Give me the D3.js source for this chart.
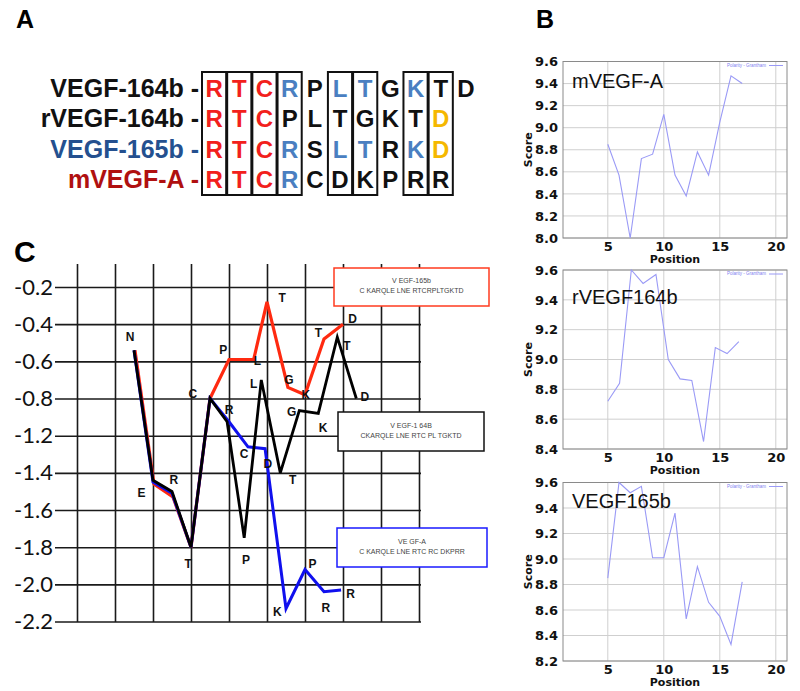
<!DOCTYPE html>
<html><head><meta charset="utf-8">
<script src="https://cdn.jsdelivr.net/npm/d3@7"></script>
<style>body{margin:0;background:#fff}</style>
</head><body>
<svg id="fig" width="800" height="691"></svg>
<script>
// ---------- Panel A data ----------
const alignNames = ["VEGF-164b -", "rVEGF-164b -", "VEGF-165b -", "mVEGF-A -"];
const alignSeqs = ["RTCRPLTGKTD", "RTCPLTGKTD", "RTCRSLTRKD", "RTCRCDKPRR"];
const alignClasses = ["rrrbkbbkbkk", "rrrkkkkkky", "rrrbkbbkby", "rrrbkkkkkk"];
const alignBoxedCols = [0, 1, 2, 3, 5, 6, 8, 9];

// ---------- Panel C data ----------
const hydroTicks = [-0.2, -0.4, -0.6, -0.8, -1.2, -1.4, -1.6, -1.8, -2.0, -2.2];
const redX   = [3.05, 4.05, 5.05, 6, 7, 8, 9.3, 10, 11.1, 12, 13, 14];
const redY   = [-0.54, -1.46, -1.53, -1.80, -0.80, -0.59, -0.59, -0.28, -0.74, -0.78, -0.48, -0.40];
const blackX = [3, 4, 5, 6, 7, 7.9, 8.8, 9.7, 10.7, 11.7, 12.7, 13.7, 14.7];
const blackY = [-0.54, -1.44, -1.50, -1.80, -0.80, -1.05, -1.75, -0.70, -1.40, -0.93, -0.96, -0.47, -0.80];
const blueX  = [3, 4, 5, 6, 7, 8, 9, 9.9, 11, 12, 13, 13.9];
const blueY  = [-0.54, -1.45, -1.51, -1.80, -0.80, -1.05, -1.26, -1.27, -2.13, -1.92, -2.04, -2.03];
const residueText = ["N","E","R","T","C","P","R","L","T","L","G","K","T","D","T","D","G","K","C","D","T","P","K","P","R","R"];
const residueX = [2.8, 3.4, 5.1, 5.85, 6.1, 7.7, 8.0, 9.5, 10.8, 9.3, 11.15, 12.05, 12.7, 14.5, 14.2, 15.15, 11.3, 12.95, 8.8, 10.05, 11.35, 8.9, 10.55, 12.4, 13.1, 14.4];
const residueY = [-0.47, -1.51, -1.44, -1.89, -0.775, -0.54, -0.92, -0.60, -0.26, -0.72, -0.70, -0.78, -0.45, -0.37, -0.52, -0.79, -0.95, -1.12, -1.30, -1.35, -1.44, -1.87, -2.15, -1.89, -2.13, -2.05];
const legendTitles = ["V EGF-165b", "V EGF-1 64B", "VE GF-A"];
const legendSeqs = ["C KARQLE LNE RTCRPLTGKTD", "CKARQLE LNE RTC PL TGKTD", "C KARQLE LNE RTC RC DKPRR"];

// ---------- Panel B data ----------
const bTitles = ["mVEGF-A", "rVEGF164b", "VEGF165b"];
const bXTicks = [5, 10, 15, 20];
const mVegfPos = [5, 6, 7, 8, 9, 10, 11, 12, 13, 14, 15, 16, 17];
const mVegfScore = [8.85, 8.57, 8.00, 8.72, 8.76, 9.12, 8.57, 8.38, 8.78, 8.57, 9.05, 9.47, 9.40];
const rVegfPos = [5, 6.05, 7.1, 8.15, 9.3, 10.4, 11.45, 12.5, 13.55, 14.6, 15.65, 16.7];
const rVegfScore = [8.72, 8.84, 9.60, 9.51, 9.57, 9.00, 8.87, 8.86, 8.45, 9.08, 9.04, 9.12];
const vegf165Pos = [5, 6, 7, 8, 9, 10, 11, 12, 13, 14, 15, 16, 17];
const vegf165Score = [8.85, 9.60, 9.52, 9.57, 9.01, 9.01, 9.36, 8.53, 8.94, 8.66, 8.55, 8.33, 8.82];
const mVegfYTicks = [8.0, 8.2, 8.4, 8.6, 8.8, 9.0, 9.2, 9.4, 9.6];
const rVegfYTicks = [8.4, 8.6, 8.8, 9.0, 9.2, 9.4, 9.6];
const vegf165YTicks = [8.2, 8.4, 8.6, 8.8, 9.0, 9.2, 9.4, 9.6];

// ---------- styles ----------
const ARIAL = "'Liberation Sans', Arial, sans-serif";
const classColor = {r: "#f2201c", b: "#4a7fc1", k: "#111111", y: "#f5b800"};
const nameColors = ["#111111", "#111111", "#24508f", "#b01010"];

const svg = d3.select("#fig");

// Panel letters
svg.append("text").attr("x", 16).attr("y", 28).text("A")
  .attr("font-family", ARIAL).attr("font-weight", "bold").attr("font-size", 25);
svg.append("text").attr("x", 536).attr("y", 28).text("B")
  .attr("font-family", ARIAL).attr("font-weight", "bold").attr("font-size", 25);
svg.append("text").attr("x", 14).attr("y", 262).text("C")
  .attr("font-family", ARIAL).attr("font-weight", "bold").attr("font-size", 30);

// ================= Panel A =================
(function () {
  const maxLen = d3.max(alignSeqs, s => s.length);
  const col = d3.scaleBand().domain(d3.range(maxLen)).range([202, 478]).paddingInner(0.04);
  const row = d3.scalePoint().domain(d3.range(alignNames.length)).range([97, 188]);
  const g = svg.append("g");
  g.selectAll("rect.box").data(alignBoxedCols).join("rect")
    .attr("x", d => col(d)).attr("y", 72)
    .attr("width", col.bandwidth()).attr("height", 123)
    .attr("fill", "none").attr("stroke", "#111").attr("stroke-width", 2);
  g.selectAll("text.name").data(alignNames).join("text")
    .attr("x", 199).attr("y", (d, i) => row(i)).attr("text-anchor", "end")
    .attr("font-family", ARIAL).attr("font-weight", "bold").attr("font-size", 25)
    .attr("fill", (d, i) => nameColors[i]).text(d => d);
  alignSeqs.forEach((seq, r) => {
    g.selectAll(null).data(seq.split("")).join("text")
      .attr("x", (d, i) => col(i) + col.bandwidth() / 2)
      .attr("y", row(r)).attr("text-anchor", "middle")
      .attr("font-family", ARIAL).attr("font-weight", "bold").attr("font-size", 24)
      .attr("fill", (d, i) => classColor[alignClasses[r][i]]).text(d => d);
  });
})();

// ================= Panel C =================
(function () {
  const x = d3.scaleLinear().domain([0, 18]).range([77, 419]);
  const y = d3.scaleLinear().domain([-0.2, -0.8, -1.2, -2.2]).range([287, 398.5, 435.7, 621.5]);
  const g = svg.append("g");
  const ya = g.append("g").attr("transform", "translate(55,0)")
    .call(d3.axisLeft(y).tickValues(hydroTicks).tickSize(-(421 - 55)).tickPadding(2)
      .tickFormat(d => d.toFixed(1)));
  ya.select(".domain").remove();
  ya.selectAll("line").attr("stroke", "#1a1a1a").attr("stroke-width", 1.6);
  ya.selectAll("text").attr("font-family", "Lato, 'Open Sans', sans-serif").attr("font-size", 22).attr("fill", "#111");
  const xa = g.append("g").attr("transform", "translate(0,622)")
    .call(d3.axisBottom(x).tickValues(d3.range(0, 19, 2)).tickSize(-(622 - 264)).tickFormat(""));
  xa.select(".domain").remove();
  xa.selectAll("line").attr("stroke", "#1a1a1a").attr("stroke-width", 1.6);

  const line = d3.line().x(d => x(d[0])).y(d => y(d[1]));
  const series = [
    {xs: redX, ys: redY, color: "#ff2a10", w: 3.2},
    {xs: blueX, ys: blueY, color: "#1010ee", w: 3},
    {xs: blackX, ys: blackY, color: "#000000", w: 2.8}
  ];
  series.forEach(s => {
    g.append("path").datum(d3.zip(s.xs, s.ys)).attr("d", line)
      .attr("fill", "none").attr("stroke", s.color).attr("stroke-width", s.w)
      .attr("stroke-linejoin", "miter");
  });
  g.selectAll("text.res").data(residueText).join("text")
    .attr("x", (d, i) => x(residueX[i])).attr("y", (d, i) => y(residueY[i]))
    .attr("text-anchor", "middle").attr("dominant-baseline", "central")
    .attr("font-family", ARIAL).attr("font-weight", "bold").attr("font-size", 12)
    .attr("fill", "#111").text(d => d);
  const boxes = [
    {x0: 334, y0: 268, x1: 489, y1: 306, color: "#ff3b1f"},
    {x0: 338, y0: 412, x1: 484, y1: 451, color: "#111111"},
    {x0: 337, y0: 528, x1: 487, y1: 567, color: "#1a1aff"}
  ];
  boxes.forEach((b, i) => {
    g.append("rect").attr("x", b.x0).attr("y", b.y0).attr("width", b.x1 - b.x0).attr("height", b.y1 - b.y0)
      .attr("fill", "#fff").attr("stroke", b.color).attr("stroke-width", 1.5);
    const cx = (b.x0 + b.x1) / 2, cy = (b.y0 + b.y1) / 2;
    g.append("text").attr("x", cx).attr("y", cy - 4).attr("text-anchor", "middle")
      .attr("font-family", ARIAL).attr("font-size", 7).attr("fill", "#444").text(legendTitles[i]);
    g.append("text").attr("x", cx).attr("y", cy + 6).attr("text-anchor", "middle")
      .attr("font-family", ARIAL).attr("font-size", 7).attr("fill", "#444").text(legendSeqs[i]);
  });
})();

// ================= Panel B =================
function drawB(cfg) {
  const L = 563, R = 787;
  const x = d3.scaleLinear().domain([1, 21]).range([L, R]);
  const y = d3.scaleLinear().domain(cfg.domain).range([cfg.bottom, cfg.top]);
  const g = svg.append("g");
  const BOLD = "'DejaVu Sans', Verdana, sans-serif";
  g.selectAll("line.hg").data(cfg.yTicks).join("line")
    .attr("x1", L).attr("x2", R).attr("y1", d => y(d)).attr("y2", d => y(d))
    .attr("stroke", "#cfcfcf").attr("stroke-width", 1);
  g.selectAll("line.vg").data(bXTicks).join("line")
    .attr("x1", d => x(d)).attr("x2", d => x(d)).attr("y1", cfg.top).attr("y2", cfg.bottom)
    .attr("stroke", "#cfcfcf").attr("stroke-width", 1);
  g.append("rect").attr("x", L).attr("y", cfg.top).attr("width", R - L).attr("height", cfg.bottom - cfg.top)
    .attr("fill", "none").attr("stroke", "#8a8a8a").attr("stroke-width", 1);
  const ya = g.append("g").attr("transform", `translate(${L},0)`)
    .call(d3.axisLeft(y).tickValues(cfg.yTicks).tickSize(0).tickPadding(5).tickFormat(d3.format(".1f")));
  ya.select(".domain").remove();
  ya.selectAll("text").attr("font-family", BOLD).attr("font-weight", "bold").attr("font-size", 13).attr("fill", "#111");
  const xa = g.append("g").attr("transform", `translate(0,${cfg.bottom})`)
    .call(d3.axisBottom(x).tickValues(bXTicks).tickSize(0).tickPadding(4).tickFormat(d3.format("d")));
  xa.select(".domain").remove();
  xa.selectAll("text").attr("font-family", BOLD).attr("font-weight", "bold").attr("font-size", 13).attr("fill", "#111");
  g.append("text").attr("x", 675).attr("y", cfg.bottom + 25).attr("text-anchor", "middle")
    .attr("font-family", BOLD).attr("font-weight", "bold").attr("font-size", 11).attr("fill", "#111").text("Position");
  g.append("text").attr("transform", `translate(532,${(cfg.top + cfg.bottom) / 2}) rotate(-90)`)
    .attr("text-anchor", "middle")
    .attr("font-family", BOLD).attr("font-weight", "bold").attr("font-size", 11).attr("fill", "#111").text("Score");
  g.append("path").datum(d3.zip(cfg.xs, cfg.ys))
    .attr("d", d3.line().x(d => x(d[0])).y(d => y(d[1])))
    .attr("fill", "none").attr("stroke", "#9a9af6").attr("stroke-width", 1.1);
  g.append("text").attr("x", 766).attr("y", cfg.top + 5).attr("text-anchor", "end")
    .attr("font-family", ARIAL).attr("font-size", 4.5).attr("fill", "#8080f0").text("Polarity - Grantham");
  g.append("line").attr("x1", 769).attr("x2", 783).attr("y1", cfg.top + 4).attr("y2", cfg.top + 4)
    .attr("stroke", "#9a9af6").attr("stroke-width", 1);
  g.append("text").attr("x", 572).attr("y", cfg.titleY)
    .attr("font-family", ARIAL).attr("font-size", 20).attr("fill", "#111").text(cfg.title);
}
drawB({top: 61.5, bottom: 238, domain: [8.0, 9.6], yTicks: mVegfYTicks, xs: mVegfPos, ys: mVegfScore, title: bTitles[0], titleY: 88});
drawB({top: 270, bottom: 449, domain: [8.4, 9.6], yTicks: rVegfYTicks, xs: rVegfPos, ys: rVegfScore, title: bTitles[1], titleY: 304});
drawB({top: 482.5, bottom: 661, domain: [8.2, 9.6], yTicks: vegf165YTicks, xs: vegf165Pos, ys: vegf165Score, title: bTitles[2], titleY: 508});
</script>
</body></html>
